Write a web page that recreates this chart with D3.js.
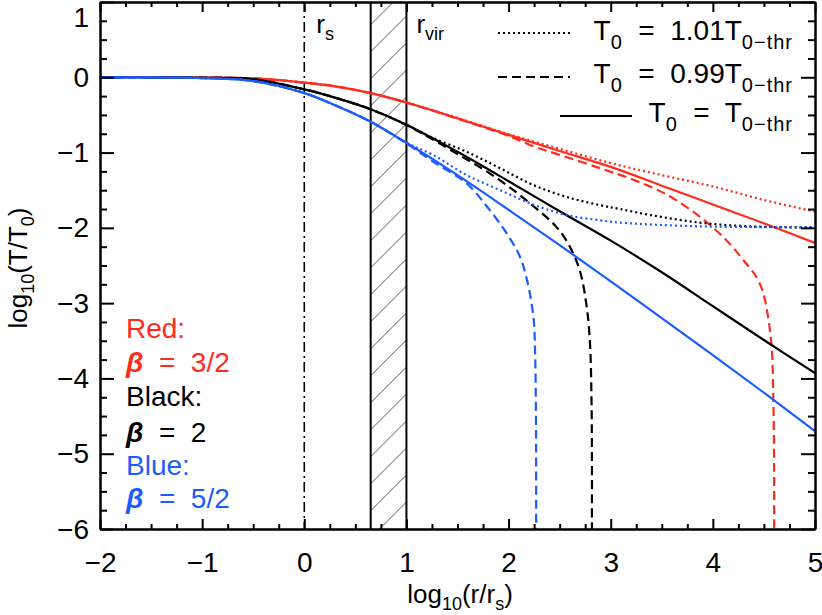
<!DOCTYPE html>
<html><head><meta charset="utf-8">
<script src="https://cdn.jsdelivr.net/npm/d3@7"></script>
<style>
body{margin:0;background:#fff}
svg{display:block}
text{font-family:"Liberation Sans",Arial,sans-serif;white-space:pre}
</style>
</head><body>
<svg id="c" width="822" height="615"></svg>
<script>
// ---------- data ----------
const xTicksMajor = [-2, -1, 0, 1, 2, 3, 4, 5];
const yTicksMajor = [-6, -5, -4, -3, -2, -1, 0, 1];
const xDomain = [-2, 5];
const yDomain = [-6, 1];
const rS = 0;          // dash-dot line (r_s)
const bandLeft = 0.65; // hatched band left edge
const rVir = 1.0;      // r_vir

const redSolid = [[-2,0],[-1.5,0],[-1,-0.004],[-0.5,-0.015],[0,-0.07],[0.3,-0.12],[0.65,-0.21],[1,-0.335],[1.5,-0.545],[2,-0.765],[2.5,-0.98],[3,-1.19],[3.5,-1.44],[4,-1.69],[4.5,-1.94],[5,-2.2]];
const redDotted = [[-2,0],[-1.5,0],[-1,-0.004],[-0.5,-0.015],[0,-0.07],[0.3,-0.12],[0.65,-0.21],[1,-0.335],[1.5,-0.54],[2,-0.755],[2.5,-0.95],[3,-1.14],[3.5,-1.30],[4,-1.45],[4.5,-1.63],[5,-1.785]];
const redDashed = [[-2,0],[-1.5,0],[-1,-0.004],[-0.5,-0.015],[0,-0.07],[0.3,-0.12],[0.65,-0.21],[1,-0.335],[1.5,-0.55],[2,-0.78],[2.25,-0.92],[2.5,-1.03],[2.9,-1.21],[3.22,-1.36],[3.55,-1.56],[3.87,-1.85],[4.13,-2.16],[4.3,-2.43],[4.42,-2.64],[4.49,-2.85],[4.54,-3.18],[4.576,-3.58],[4.592,-4.29],[4.599,-5.0],[4.6,-6.0]];

const blackSolid = [[-2,0],[-1.5,0],[-1,-0.006],[-0.5,-0.027],[0,-0.16],[0.3,-0.27],[0.65,-0.425],[1,-0.63],[1.5,-0.99],[2,-1.38],[2.5,-1.78],[3,-2.17],[3.5,-2.59],[4,-3.04],[4.5,-3.49],[5,-3.93]];
const blackDotted = [[-2,0],[-1.5,0],[-1,-0.006],[-0.5,-0.027],[0,-0.16],[0.3,-0.27],[0.65,-0.425],[1,-0.63],[1.25,-0.80],[1.59,-0.99],[1.92,-1.21],[2.24,-1.43],[2.57,-1.59],[2.9,-1.70],[3.09,-1.75],[3.39,-1.83],[3.87,-1.93],[4.36,-1.98],[5,-1.995]];
const blackDashed = [[-2,0],[-1.5,0],[-1,-0.006],[-0.5,-0.027],[0,-0.16],[0.3,-0.27],[0.65,-0.425],[1,-0.635],[1.25,-0.82],[1.5,-1.02],[1.75,-1.22],[2,-1.45],[2.25,-1.72],[2.47,-1.99],[2.6,-2.25],[2.7,-2.58],[2.765,-3.05],[2.797,-3.53],[2.812,-4.29],[2.816,-5.0],[2.816,-6.0]];

const blueSolid = [[-2,0],[-1.5,-0.002],[-1,-0.01],[-0.5,-0.05],[0,-0.21],[0.3,-0.37],[0.65,-0.59],[1,-0.87],[1.5,-1.30],[2,-1.76],[2.5,-2.23],[3,-2.71],[3.5,-3.20],[4,-3.69],[4.5,-4.19],[5,-4.70]];
const blueDotted = [[-2,0],[-1.5,-0.002],[-1,-0.01],[-0.5,-0.05],[0,-0.21],[0.3,-0.37],[0.65,-0.59],[1,-0.87],[1.26,-1.03],[1.59,-1.30],[1.92,-1.50],[2.24,-1.69],[2.57,-1.83],[2.9,-1.90],[3.09,-1.93],[3.87,-1.98],[5,-1.99]];
const blueDashed = [[-2,0],[-1.5,-0.002],[-1,-0.01],[-0.5,-0.05],[0,-0.21],[0.3,-0.37],[0.65,-0.59],[1,-0.88],[1.26,-1.12],[1.59,-1.41],[1.79,-1.72],[1.98,-2.07],[2.11,-2.38],[2.18,-2.69],[2.243,-3.18],[2.259,-3.62],[2.268,-4.51],[2.27,-5.2],[2.27,-6.0]];

const RED = "#ff2b1c", BLACK = "#000000", BLUE = "#1c5cff";
const series = [
  {data: redDotted, color: RED, style: "dotted"},
  {data: redDashed, color: RED, style: "dashed"},
  {data: redSolid, color: RED, style: "solid"},
  {data: blackDotted, color: BLACK, style: "dotted"},
  {data: blackDashed, color: BLACK, style: "dashed"},
  {data: blackSolid, color: BLACK, style: "solid"},
  {data: blueDotted, color: BLUE, style: "dotted"},
  {data: blueDashed, color: BLUE, style: "dashed"},
  {data: blueSolid, color: BLUE, style: "solid"}
];
const dashes = {solid: null, dashed: "9,5", dotted: "2,3"};

const legendItems = [
  {style: "dotted", parts: [["T"],["0",1],["  =  1.01T"],["0−thr",1]]},
  {style: "dashed", parts: [["T"],["0",1],["  =  0.99T"],["0−thr",1]]},
  {style: "solid",  parts: [["T"],["0",1],["  =  T"],["0−thr",1]]}
];
const betaLabels = [
  {name: "Red:", beta: "3/2", color: RED},
  {name: "Black:", beta: "2", color: BLACK},
  {name: "Blue:", beta: "5/2", color: BLUE}
];

// ---------- drawing ----------
const svg = d3.select("#c");
const L = 100, R = 815, T = 2, B = 529;
const x = d3.scaleLinear(xDomain, [L, R]);
const y = d3.scaleLinear(yDomain, [B, T]);

svg.append("defs").append("clipPath").attr("id","plot")
  .append("rect").attr("x",L).attr("y",T).attr("width",R-L).attr("height",B-T);
svg.select("defs").append("clipPath").attr("id","band")
  .append("rect").attr("x",x(bandLeft)).attr("y",T).attr("width",x(rVir)-x(bandLeft)).attr("height",B-T);

// hatched band
const hatch = svg.append("g").attr("clip-path","url(#band)");
const bw = x(rVir) - x(bandLeft);
for (let yy = T - 40; yy < B + 60; yy += 27) {
  hatch.append("line").attr("x1", x(bandLeft)).attr("y1", yy + bw)
    .attr("x2", x(rVir)).attr("y2", yy)
    .attr("stroke","#555").attr("stroke-width",1);
}
[bandLeft, rVir].forEach(v => svg.append("line").attr("x1",x(v)).attr("x2",x(v)).attr("y1",T).attr("y2",B)
  .attr("stroke","#000").attr("stroke-width",2));
svg.append("line").attr("x1",x(rS)).attr("x2",x(rS)).attr("y1",T).attr("y2",B)
  .attr("stroke","#000").attr("stroke-width",1.6).attr("stroke-dasharray","10,4,2,4");

// curves
const line = d3.line().x(d => x(d[0])).y(d => y(d[1])).curve(d3.curveCatmullRom.alpha(0.5));
const cg = svg.append("g").attr("clip-path","url(#plot)");
series.forEach(s => {
  cg.append("path").attr("d", line(s.data)).attr("fill","none")
    .attr("stroke", s.color).attr("stroke-width", 2.2)
    .attr("stroke-dasharray", dashes[s.style]);
});

// axes
const fmt = d => (d < 0 ? "−" + Math.abs(d) : String(d));
const minorX = d3.range(-2, 5.001, 0.25).filter(v => Math.abs(v - Math.round(v)) > 1e-6);
const minorY = d3.range(-6, 1.001, 0.25).filter(v => Math.abs(v - Math.round(v)) > 1e-6);
function styleAxis(g) {
  g.attr("font-size", 28).attr("font-family", '"Liberation Sans",Arial,sans-serif');
  g.selectAll("line").attr("stroke","#000").attr("stroke-width",2);
  g.selectAll(".domain").attr("stroke","#000").attr("stroke-width",2);
}
const gb = svg.append("g").attr("transform",`translate(0,${B})`)
  .call(d3.axisBottom(x).tickValues(xTicksMajor).tickSize(-10).tickSizeOuter(0).tickFormat(fmt));
styleAxis(gb);
gb.selectAll("text").attr("y", 43).attr("dy", null).attr("fill","#000");
const gbm = svg.append("g").attr("transform",`translate(0,${B})`)
  .call(d3.axisBottom(x).tickValues(minorX).tickSize(-5).tickSizeOuter(0).tickFormat(""));
styleAxis(gbm);
const gt = svg.append("g").attr("transform",`translate(0,${T})`)
  .call(d3.axisTop(x).tickValues(xTicksMajor).tickSize(-10).tickSizeOuter(0).tickFormat(""));
styleAxis(gt);
const gtm = svg.append("g").attr("transform",`translate(0,${T})`)
  .call(d3.axisTop(x).tickValues(minorX).tickSize(-5).tickSizeOuter(0).tickFormat(""));
styleAxis(gtm);
const gl = svg.append("g").attr("transform",`translate(${L},0)`)
  .call(d3.axisLeft(y).tickValues(yTicksMajor).tickSize(-14).tickSizeOuter(0).tickFormat(fmt));
styleAxis(gl);
gl.selectAll("text").attr("x", -11).attr("fill","#000")
  .attr("dy", d => (y(d) + 9 < 26 ? (26 - y(d)) + "px" : "9px"));
const glm = svg.append("g").attr("transform",`translate(${L},0)`)
  .call(d3.axisLeft(y).tickValues(minorY).tickSize(-7).tickSizeOuter(0).tickFormat(""));
styleAxis(glm);
const gr = svg.append("g").attr("transform",`translate(${R},0)`)
  .call(d3.axisRight(y).tickValues(yTicksMajor).tickSize(-14).tickSizeOuter(0).tickFormat(""));
styleAxis(gr);
const grm = svg.append("g").attr("transform",`translate(${R},0)`)
  .call(d3.axisRight(y).tickValues(minorY).tickSize(-7).tickSizeOuter(0).tickFormat(""));
styleAxis(grm);

// rich text helper: parts = [[text, isSub]]
function rich(sel, parts, size, subSize, shift, subSpacing) {
  let down = false;
  parts.forEach(p => {
    const ts = sel.append("tspan").text(p[0]);
    if (p[1]) {
      ts.attr("font-size", subSize);
      if (subSpacing) ts.attr("letter-spacing", subSpacing);
      if (!down) { ts.attr("dy", shift); down = true; }
    } else { ts.attr("font-size", size); if (down) { ts.attr("dy", -shift); down = false; } }
  });
  return sel;
}

// axis titles
rich(svg.append("text").attr("x", 460).attr("y", 603).attr("text-anchor","middle"),
  [["log"],["10",1],["(r/r"],["s",1],[")"]], 26, 18, 7);
rich(svg.append("text").attr("transform","translate(27,268) rotate(-90)").attr("text-anchor","middle"),
  [["log"],["10",1],["(T/T"],["0",1],[")"]], 26, 18, 7);

// r_s, r_vir labels
rich(svg.append("text").attr("x", x(rS) + 12).attr("y", 33), [["r"],["s",1]], 26, 18, 7);
rich(svg.append("text").attr("x", x(rVir) + 10).attr("y", 33), [["r"],["vir",1]], 26, 18, 7);

// legend
const legY = [33, 77, 116], legText = [40, 83, 122];
const legX = [[498,570],[498,570],[560,632]];
legendItems.forEach((it, i) => {
  svg.append("line").attr("x1", legX[i][0]).attr("x2", legX[i][1]).attr("y1", legY[i]).attr("y2", legY[i])
    .attr("stroke","#000").attr("stroke-width",2).attr("stroke-dasharray", dashes[it.style]);
  rich(svg.append("text").attr("x", 793).attr("y", legText[i]).attr("text-anchor","end"),
    it.parts, 28, 20, 9, 1);
});

// beta labels
const betaY = [[338,372],[406,442],[475,508]];
betaLabels.forEach((b, i) => {
  svg.append("text").attr("x", 126).attr("y", betaY[i][0]).attr("font-size", 28).attr("fill", b.color).text(b.name);
  const t = svg.append("text").attr("x", 126).attr("y", betaY[i][1]).attr("font-size", 28).attr("fill", b.color);
  t.append("tspan").attr("font-weight","bold").attr("font-style","italic").text("β");
  t.append("tspan").text("  =  " + b.beta);
});
</script>
</body></html>
